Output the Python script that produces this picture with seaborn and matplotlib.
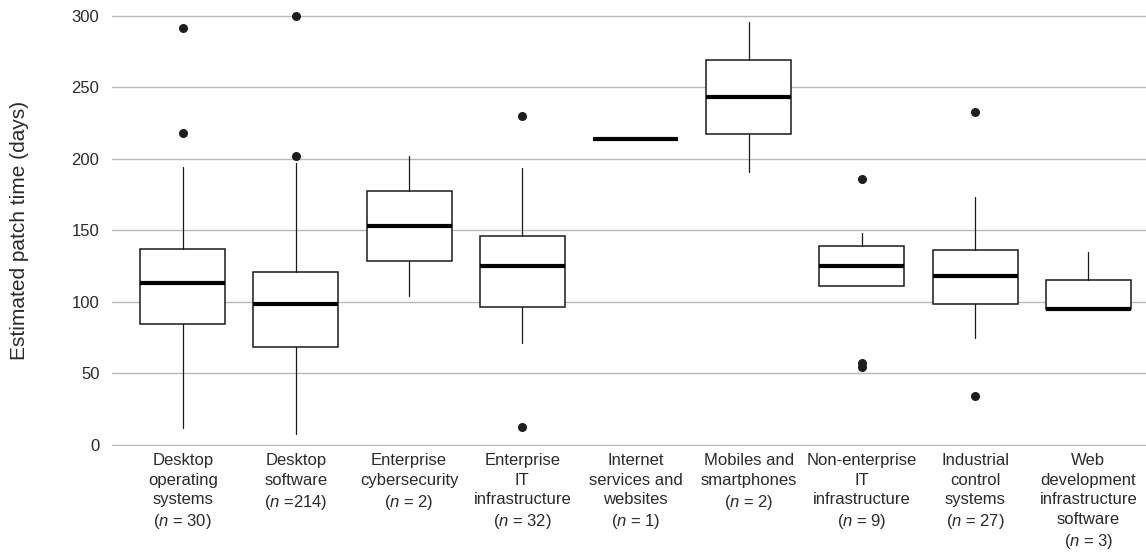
import matplotlib
matplotlib.use("Agg")
import matplotlib.pyplot as plt
import seaborn as sns
import pandas as pd

sns.set_theme(style="white")
plt.rcParams['font.family'] = ['Liberation Sans', 'DejaVu Sans']
plt.rcParams['mathtext.fontset'] = 'custom'
plt.rcParams['mathtext.it'] = 'Liberation Sans:italic'
plt.rcParams['mathtext.rm'] = 'Liberation Sans'

categories = [
    "Desktop\noperating\nsystems\n($\\it{n}$ = 30)",
    "Desktop\nsoftware\n($\\it{n}$ =214)",
    "Enterprise\ncybersecurity\n($\\it{n}$ = 2)",
    "Enterprise\nIT\ninfrastructure\n($\\it{n}$ = 32)",
    "Internet\nservices and\nwebsites\n($\\it{n}$ = 1)",
    "Mobiles and\nsmartphones\n($\\it{n}$ = 2)",
    "Non-enterprise\nIT\ninfrastructure\n($\\it{n}$ = 9)",
    "Industrial\ncontrol\nsystems\n($\\it{n}$ = 27)",
    "Web\ndevelopment\ninfrastructure\nsoftware\n($\\it{n}$ = 3)",
]
whisker_low = [11.6, 7.5, 104.3, 71.4, 213.7, 190.9, 111.0, 74.5, 95.2]
q1 = [84.5, 68.4, 128.5, 96.4, 213.7, 217.0, 111.0, 98.7, 95.2]
median = [112.9, 98.5, 152.9, 125.0, 213.7, 243.2, 125.0, 118.0, 95.2]
q3 = [136.7, 120.6, 177.4, 146.2, 213.7, 269.1, 138.8, 136.0, 115.0]
whisker_high = [194.4, 196.7, 201.6, 193.6, 213.7, 295.2, 147.8, 173.4, 134.6]
outlier_category = [0, 0, 1, 1, 3, 3, 6, 6, 6, 7, 7]
outlier_value = [291.4, 217.7, 299.6, 201.6, 229.7, 12.6, 185.8, 57.0, 54.7, 232.5, 34.2]

fig = plt.figure(figsize=(11.46, 5.59), dpi=100)
# data 0 -> y pixel 445, data 300 -> y pixel 15.5
ax = fig.add_axes([0.0977, 1 - 446.0 / 559, 0.9023, 431.5 / 559])

stats = []
for i in range(len(categories)):
    stats.append(dict(whislo=whisker_low[i], q1=q1[i], med=median[i],
                      q3=q3[i], whishi=whisker_high[i], fliers=[]))

ax.bxp(stats, positions=list(range(len(categories))), widths=0.75,
       showfliers=False, showcaps=False, patch_artist=True,
       boxprops=dict(facecolor="white", edgecolor="#1a1a1a", linewidth=1.1),
       medianprops=dict(color="#000000", linewidth=3.0, solid_capstyle="butt"),
       whiskerprops=dict(color="#1a1a1a", linewidth=0.9), zorder=3)

out_df = pd.DataFrame({
    "category": [categories[c] for c in outlier_category],
    "value": outlier_value,
})
sns.stripplot(data=out_df, x="category", y="value", order=categories,
              jitter=False, color="#1e1e1e", size=6.5, ax=ax, zorder=4,
              clip_on=False)

ax.set_xlim(-0.625, 8.51)
ax.set_ylim(-0.7, 300.7)
ax.set_yticks([0, 50, 100, 150, 200, 250, 300])
ax.set_xticks(range(len(categories)))
ax.set_xticklabels(categories, fontsize=12, color="#2a2a2a", linespacing=1.38)
ax.tick_params(axis="y", labelsize=12, labelcolor="#2a2a2a", length=0, pad=9)
ax.tick_params(axis="x", length=0, pad=5)
ax.yaxis.grid(True, color="#b8b8b8", linewidth=1.0)
ax.set_axisbelow(True)
for s in ax.spines.values():
    s.set_visible(False)
ax.set_xlabel("")
ax.set_ylabel("Estimated patch time (days)", fontsize=15, color="#2a2a2a", labelpad=31)

fig.savefig("out.png", dpi=100)
